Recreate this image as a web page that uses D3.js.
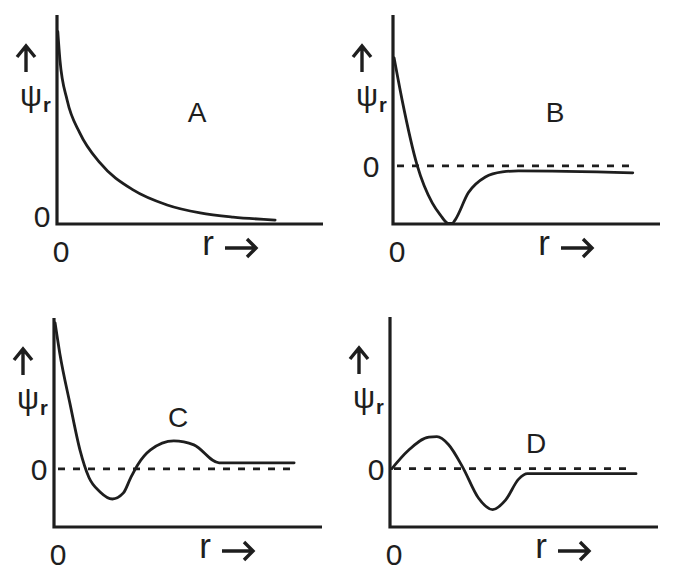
<!DOCTYPE html>
<html>
<head>
<meta charset="utf-8">
<script src="https://cdn.jsdelivr.net/npm/d3@7"></script>
<style>
    body { margin: 0; background: #fff; }
    svg text { font-family: "Liberation Sans", Arial, sans-serif; fill: #1e1e1e; }
</style>
</head>
<body>
<div id="chart"></div>
<script>
// curve values (r, psi in arbitrary units)
const curveA_r   = [0.03, 0.11, 0.38, 0.86, 1.62, 2.86, 4.14, 5.38, 6.62, 8.2];
const curveA_psi = [9.2, 7.85, 5.93, 4.35, 2.92, 1.63, 0.91, 0.53, 0.33, 0.19];

const curveB_r   = [0.04, 0.34, 0.9, 1.47, 1.77, 2.07, 2.22, 2.33, 2.82, 3.46, 4.1, 4.7, 8.98];
const curveB_psi = [5.17, 3.16, 0.05, -1.77, -2.34, -2.75, -2.75, -2.58, -1.29, -0.53, -0.29, -0.24, -0.33];

const curveC_r   = [0.04, 0.22, 0.6, 0.97, 1.3, 1.72, 2.18, 2.59, 2.86, 3.12, 3.6, 4.47, 5.22, 6.16, 8.96];
const curveC_psi = [6.99, 5.5, 3.1, 0.9, -0.4, -1.1, -1.44, -1.15, -0.43, 0.19, 0.91, 1.34, 1.15, 0.29, 0.29];

const curveD_r   = [0.07, 0.67, 1.45, 1.75, 2.18, 2.72, 3.3, 3.83, 4.31, 4.8, 5.13, 9.18];
const curveD_psi = [0, 0.85, 1.5, 1.52, 1.15, 0.05, -1.4, -1.95, -1.5, -0.5, -0.24, -0.24];

const panelNames = ["A", "B", "C", "D"];
const zeroLineEnd = [null, 9, 9, 9];   // r where the dashed zero line stops

const width = 675, height = 580;
const ink = "#1e1e1e";

const svg = d3.select("#chart").append("svg")
    .attr("width", width)
    .attr("height", height);

// layout of the four panels
const panels = [
    { name: panelNames[0], r: curveA_r, psi: curveA_psi, left: 57, right: 323, top: 15, bottom: 224,
      yDomain: [0, 10], zeroEnd: zeroLineEnd[0], zeroDx: -15, zeroDy: -8, label: [140, 107] },
    { name: panelNames[1], r: curveB_r, psi: curveB_psi, left: 393, right: 660, top: 15, bottom: 224,
      yDomain: [-2.78, 7.22], zeroEnd: zeroLineEnd[1], zeroDx: -22, zeroDy: 0, label: [162, 107] },
    { name: panelNames[2], r: curveC_r, psi: curveC_psi, left: 54, right: 322, top: 318, bottom: 527,
      yDomain: [-2.78, 7.22], zeroEnd: zeroLineEnd[2], zeroDx: -15, zeroDy: 0, label: [124, 109] },
    { name: panelNames[3], r: curveD_r, psi: curveD_psi, left: 390, right: 658, top: 317, bottom: 527,
      yDomain: [-2.78, 7.22], zeroEnd: zeroLineEnd[3], zeroDx: -14, zeroDy: 0, label: [146, 136] }
];

panels.forEach(p => {
    const x = d3.scaleLinear().domain([0, 10]).range([p.left, p.right]);
    const y = d3.scaleLinear().domain(p.yDomain).range([p.bottom, p.top]);
    const g = svg.append("g").attr("class", "panel");

    // dashed zero line
    if (p.zeroEnd !== null) {
        g.append("line")
            .attr("x1", x(0) + 4).attr("x2", x(p.zeroEnd))
            .attr("y1", y(0)).attr("y2", y(0))
            .attr("stroke", ink)
            .attr("stroke-width", 2.6)
            .attr("stroke-dasharray", "7,8");
    }

    // axes (L shape)
    g.append("path")
        .attr("d", `M${x(0)},${p.top}V${p.bottom}H${p.right}`)
        .attr("fill", "none")
        .attr("stroke", ink)
        .attr("stroke-width", 3.2);

    // curve
    const pts = p.r.map((r, i) => [r, p.psi[i]]);
    g.append("path")
        .datum(pts)
        .attr("d", d3.line()
            .x(d => x(d[0]))
            .y(d => y(d[1]))
            .curve(d3.curveMonotoneX))
        .attr("fill", "none")
        .attr("stroke", ink)
        .attr("stroke-width", 2.8)
        .attr("stroke-linecap", "round");

    // panel letter
    g.append("text")
        .attr("x", p.left + p.label[0])
        .attr("y", p.top + p.label[1])
        .attr("text-anchor", "middle")
        .style("font-size", "28px")
        .text(p.name);

    // "0" on the psi axis
    g.append("text")
        .attr("x", p.left + p.zeroDx)
        .attr("y", y(0) + p.zeroDy + 11)
        .attr("text-anchor", "middle")
        .style("font-size", "30px")
        .text("0");

    // "0" under the origin
    g.append("text")
        .attr("x", p.left + 4)
        .attr("y", p.bottom + 38)
        .attr("text-anchor", "middle")
        .style("font-size", "30px")
        .text("0");

    // r label with arrow
    g.append("text")
        .attr("x", p.left + 151)
        .attr("y", p.bottom + 31)
        .attr("text-anchor", "middle")
        .style("font-size", "35px")
        .text("r");

    const ay = p.bottom + 24, ax0 = p.left + 168, ax1 = p.left + 199;
    g.append("path")
        .attr("d", `M${ax0},${ay}H${ax1}M${ax1 - 9},${ay - 9}L${ax1},${ay}L${ax1 - 9},${ay + 9}`)
        .attr("fill", "none")
        .attr("stroke", ink)
        .attr("stroke-width", 3.4);

    // up arrow and psi_r label
    const ux = p.left - 31, uy0 = p.top + 31, uy1 = p.top + 57;
    g.append("path")
        .attr("d", `M${ux},${uy1}V${uy0}M${ux - 9},${uy0 + 11}L${ux},${uy0}L${ux + 9},${uy0 + 11}`)
        .attr("fill", "none")
        .attr("stroke", ink)
        .attr("stroke-width", 3.4);

    const lab = g.append("text")
        .attr("x", p.left - 37)
        .attr("y", p.top + 91);
    lab.append("tspan")
        .style("font-size", "31px")
        .text("ψ");
    lab.append("tspan")
        .attr("dx", 1)
        .attr("dy", 6)
        .style("font-size", "20px")
        .style("font-weight", "bold")
        .text("r");
});
</script>
</body>
</html>
